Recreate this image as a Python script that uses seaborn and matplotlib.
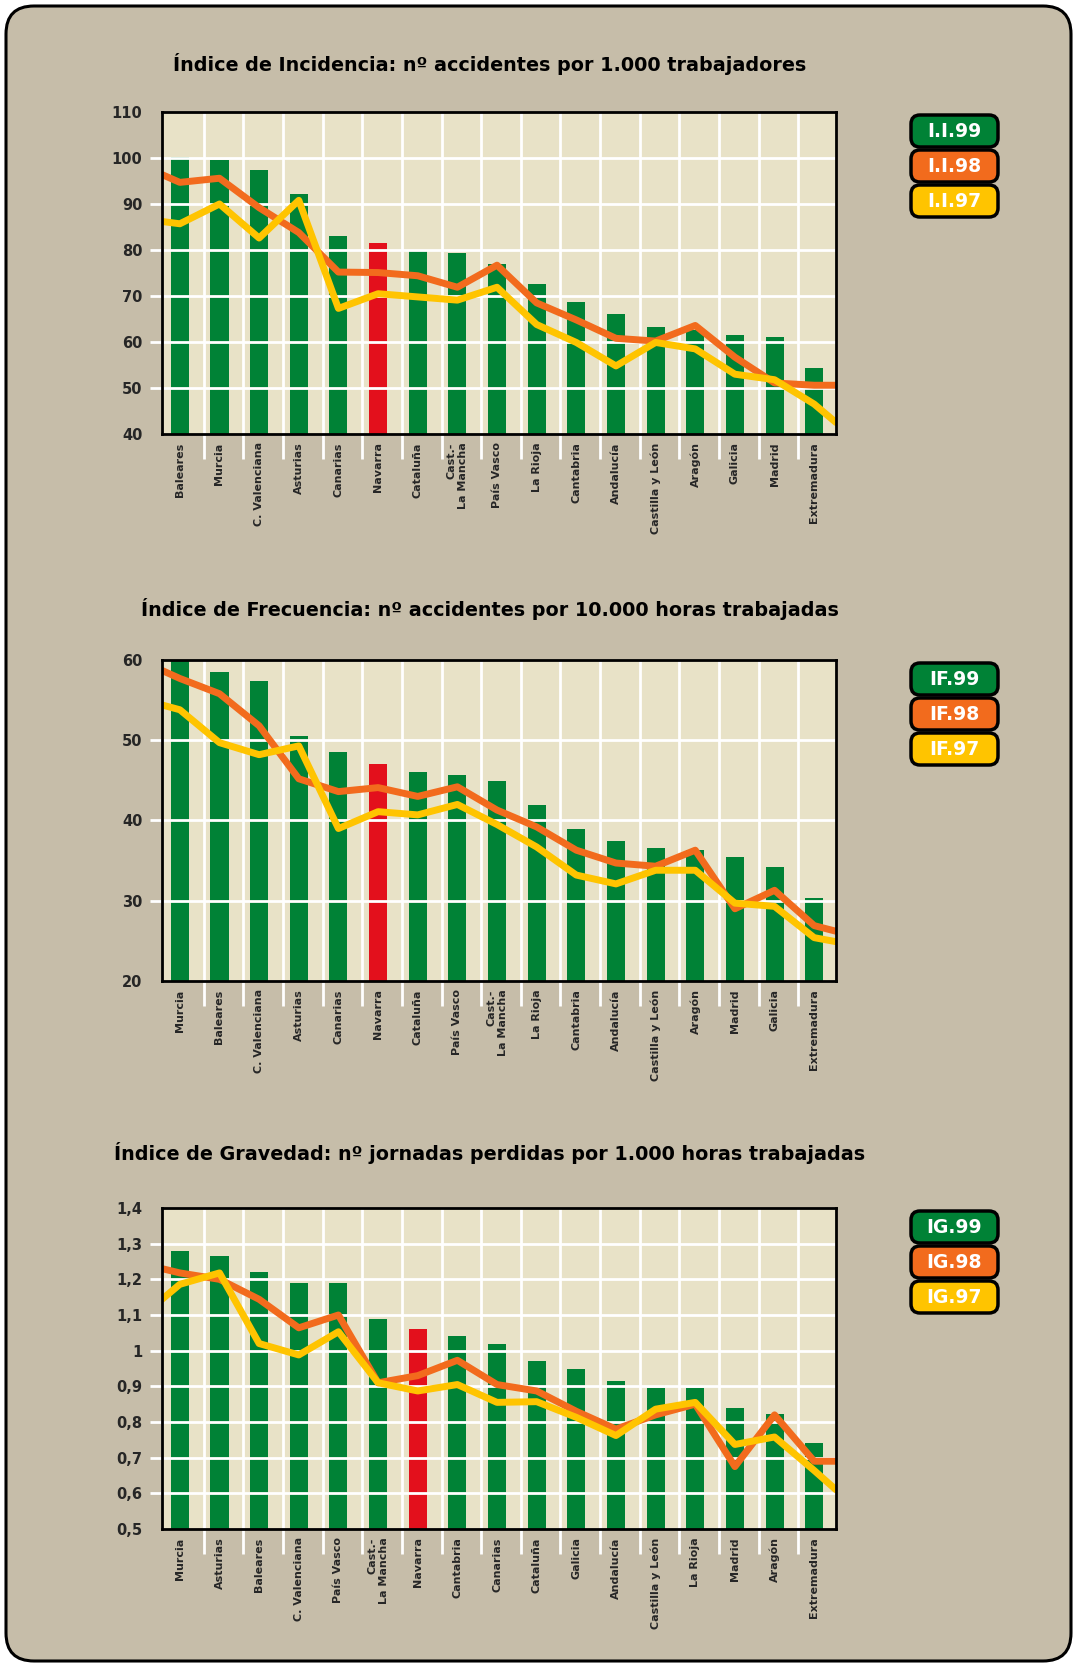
import matplotlib
matplotlib.use("Agg")
import matplotlib.pyplot as plt
import numpy as np
import pandas as pd
import seaborn as sns
from matplotlib.patches import FancyBboxPatch

# ---------------------------------------------------------------- data
titles = [
    "Índice de Incidencia: nº accidentes por 1.000 trabajadores",
    "Índice de Frecuencia: nº accidentes por 10.000 horas trabajadas",
    "Índice de Gravedad: nº jornadas perdidas por 1.000 horas trabajadas",
]

# Índice de Incidencia
cat_ii = ["Baleares", "Murcia", "C. Valenciana", "Asturias", "Canarias", "Navarra",
          "Cataluña", "Cast.-\nLa Mancha", "País Vasco", "La Rioja", "Cantabria",
          "Andalucía", "Castilla y León", "Aragón", "Galicia", "Madrid", "Extremadura"]
ii_99 = [100.2, 99.6, 97.4, 92.2, 83.1, 81.6, 79.8, 79.3, 77.0, 72.6, 68.7, 66.0, 63.2, 62.5, 61.6, 61.1, 54.4]
ii_98 = [94.7, 95.6, 89.2, 83.8, 75.2, 75.1, 74.4, 71.9, 76.7, 68.5, 64.8, 60.8, 60.2, 63.6, 56.7, 51.1, 50.6]
ii_98_ends = [96.4, 50.6]
ii_97 = [85.7, 90.0, 82.6, 90.8, 67.3, 70.5, 69.8, 69.1, 71.9, 63.8, 59.9, 54.8, 59.9, 58.5, 53.0, 51.8, 46.5]
ii_97_ends = [86.2, 42.5]
ii_ticks = [40, 50, 60, 70, 80, 90, 100, 110]
ii_ticklabels = ["40", "50", "60", "70", "80", "90", "100", "110"]
ii_legend = ["I.I.99", "I.I.98", "I.I.97"]

# Índice de Frecuencia
cat_if = ["Murcia", "Baleares", "C. Valenciana", "Asturias", "Canarias", "Navarra",
          "Cataluña", "País Vasco", "Cast.-\nLa Mancha", "La Rioja", "Cantabria",
          "Andalucía", "Castilla y León", "Aragón", "Madrid", "Galicia", "Extremadura"]
if_99 = [60.2, 58.5, 57.4, 50.5, 48.5, 47.0, 46.0, 45.7, 44.9, 41.9, 39.0, 37.5, 36.6, 36.3, 35.5, 34.2, 30.3]
if_98 = [57.7, 55.8, 51.8, 45.2, 43.6, 44.1, 43.0, 44.2, 41.3, 39.2, 36.3, 34.7, 34.3, 36.3, 29.0, 31.3, 26.9]
if_98_ends = [58.7, 26.2]
if_97 = [53.8, 49.7, 48.2, 49.3, 39.0, 41.1, 40.7, 42.0, 39.5, 36.7, 33.2, 32.1, 33.8, 33.8, 29.7, 29.3, 25.4]
if_97_ends = [54.4, 24.9]
if_ticks = [20, 30, 40, 50, 60]
if_ticklabels = ["20", "30", "40", "50", "60"]
if_legend = ["IF.99", "IF.98", "IF.97"]

# Índice de Gravedad
cat_ig = ["Murcia", "Asturias", "Baleares", "C. Valenciana", "País Vasco", "Cast.-\nLa Mancha",
          "Navarra", "Cantabria", "Canarias", "Cataluña", "Galicia", "Andalucía",
          "Castilla y León", "La Rioja", "Madrid", "Aragón", "Extremadura"]
ig_99 = [1.28, 1.265, 1.22, 1.19, 1.19, 1.09, 1.06, 1.04, 1.02, 0.97, 0.95, 0.915, 0.895, 0.895, 0.84, 0.823, 0.74]
ig_98 = [1.218, 1.20, 1.144, 1.064, 1.10, 0.91, 0.93, 0.973, 0.905, 0.887, 0.83, 0.78, 0.82, 0.85, 0.675, 0.82, 0.69]
ig_98_ends = [1.23, 0.69]
ig_97 = [1.186, 1.218, 1.02, 0.988, 1.053, 0.91, 0.887, 0.905, 0.855, 0.857, 0.813, 0.762, 0.836, 0.855, 0.737, 0.758, 0.664]
ig_97_ends = [1.144, 0.61]
ig_ticks = [0.5, 0.6, 0.7, 0.8, 0.9, 1.0, 1.1, 1.2, 1.3, 1.4]
ig_ticklabels = ["0,5", "0,6", "0,7", "0,8", "0,9", "1", "1,1", "1,2", "1,3", "1,4"]
ig_legend = ["IG.99", "IG.98", "IG.97"]

highlight = "Navarra"

# ---------------------------------------------------------------- style
W, H = 1077, 1667
PANEL = "#C6BDA9"
PLOT_BG = "#E8E2C7"
GREEN = "#008236"
RED = "#E3101C"
ORANGE = "#F26B1D"
YELLOW = "#FFC400"

sns.set_style("white")
plt.rcParams["font.family"] = ["DejaVu Sans"]

fig = plt.figure(figsize=(W / 100, H / 100), dpi=100, facecolor="white")

# background panel drawn in pixel units
bg = fig.add_axes([0, 0, 1, 1], zorder=0)
bg.set_xlim(0, W)
bg.set_ylim(H, 0)
bg.axis("off")
bg.add_patch(FancyBboxPatch((6, 6), W - 12, H - 12,
                            boxstyle="round,pad=0,rounding_size=28",
                            fc=PANEL, ec="black", lw=2.2))

X0, X1 = 162, 836
charts = [
    dict(top=112, bottom=434, title_y=64, cats=cat_ii, bars=ii_99,
         l98=ii_98, e98=ii_98_ends, l97=ii_97, e97=ii_97_ends,
         ticks=ii_ticks, ticklabels=ii_ticklabels, legend=ii_legend, title=titles[0]),
    dict(top=660, bottom=981, title_y=609, cats=cat_if, bars=if_99,
         l98=if_98, e98=if_98_ends, l97=if_97, e97=if_97_ends,
         ticks=if_ticks, ticklabels=if_ticklabels, legend=if_legend, title=titles[1]),
    dict(top=1208, bottom=1529, title_y=1153, cats=cat_ig, bars=ig_99,
         l98=ig_98, e98=ig_98_ends, l97=ig_97, e97=ig_97_ends,
         ticks=ig_ticks, ticklabels=ig_ticklabels, legend=ig_legend, title=titles[2]),
]

n = 17
x_left, x_right = -0.45, 16.55
line_x = [x_left] + list(range(n)) + [x_right]

for ch in charts:
    ax = fig.add_axes([X0 / W, 1 - ch["bottom"] / H, (X1 - X0) / W, (ch["bottom"] - ch["top"]) / H],
                      zorder=2)
    ax.set_facecolor(PLOT_BG)

    df = pd.DataFrame({"region": ch["cats"], "value": ch["bars"]})
    pal = {c: (RED if c == highlight else GREEN) for c in ch["cats"]}
    sns.barplot(data=df, x="region", y="value", hue="region", palette=pal,
                width=0.455, saturation=1, legend=False, linewidth=0, ax=ax, zorder=2)

    # white grid: horizontal at inner ticks, vertical between regions
    for t in ch["ticks"][1:-1]:
        ax.axhline(t, color="white", lw=2, zorder=3)
    bounds = [i + 0.6 for i in range(n - 1)]
    for b in bounds:
        ax.axvline(b, color="white", lw=2, zorder=3)

    y98 = [ch["e98"][0]] + list(ch["l98"]) + [ch["e98"][1]]
    y97 = [ch["e97"][0]] + list(ch["l97"]) + [ch["e97"][1]]
    sns.lineplot(x=line_x, y=y98, color=ORANGE, lw=5, sort=False, ax=ax, zorder=4)
    sns.lineplot(x=line_x, y=y97, color=YELLOW, lw=5, sort=False, ax=ax, zorder=5)

    ax.set_xlim(x_left, x_right)
    ax.set_ylim(ch["ticks"][0], ch["ticks"][-1])
    ax.set_xlabel("")
    ax.set_ylabel("")

    ax.set_yticks(ch["ticks"])
    ax.set_yticklabels(ch["ticklabels"], fontsize=10.5, fontweight="bold")
    ax.tick_params(axis="y", which="major", direction="out", length=9, width=2,
                   color="white", pad=5, left=True)
    yt = ax.yaxis.get_major_ticks()
    yt[0].tick1line.set_visible(False)
    yt[-1].tick1line.set_visible(False)

    ax.set_xticks(range(n))
    ax.set_xticklabels(ch["cats"], rotation=90, fontsize=8, fontweight="bold",
                       va="top", ha="center", multialignment="right")
    ax.tick_params(axis="x", which="major", length=0, pad=6)
    ax.set_xticks(bounds, minor=True)
    ax.tick_params(axis="x", which="minor", direction="out", length=18, width=2,
                   color="white", bottom=True)

    for s in ax.spines.values():
        s.set_visible(True)
        s.set_color("black")
        s.set_linewidth(2)
        s.set_zorder(6)

    # title
    bg.text(490, ch["title_y"], ch["title"], ha="center", va="center",
            fontsize=13.8, fontweight="bold", color="black")

    # legend boxes
    for k, (lab, col) in enumerate(zip(ch["legend"], [GREEN, ORANGE, YELLOW])):
        y0 = ch["top"] + 3 + k * 35
        bg.add_patch(FancyBboxPatch((911, y0), 87, 32,
                                    boxstyle="round,pad=0,rounding_size=9",
                                    fc=col, ec="black", lw=2.5))
        bg.text(954.5, y0 + 16, lab, ha="center", va="center", fontsize=13.5,
                fontweight="bold", color="white")

fig.savefig("out.png", dpi=100, facecolor="white")
